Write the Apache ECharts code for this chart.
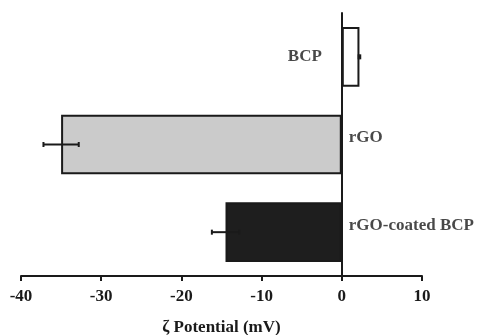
<!DOCTYPE html>
<html>
<head>
<meta charset="utf-8">
<script src="https://cdn.jsdelivr.net/npm/echarts@6/dist/echarts.min.js"></script>
<style>
  html, body { margin: 0; padding: 0; background: #fff; }
  #chart { width: 478px; height: 335px; }
</style>
</head>
<body>
<div id="chart"></div>
<script>
// data
var categories = ['BCP', 'rGO', 'rGO-coated BCP'];
var values = [2.2, -35.0, -14.5];
var errors = [0.1, 2.2, 1.7];
var fills = ['#ffffff', '#cbcbcb', '#1e1e1e'];
var xTicks = [-40, -30, -20, -10, 0, 10];

var ink = '#1a1a1a';
var font = '"Liberation Serif", "Times New Roman", serif';

var chart = echarts.init(document.getElementById('chart'));

var barData = values.map(function (v, i) {
  return {
    value: v,
    itemStyle: { color: fills[i], borderColor: ink, borderWidth: 2 }
  };
});

// labels sit at x = 0, BCP on the left, the others on the right
var labelData = categories.map(function (c, i) {
  var left = values[i] > 0;
  return {
    value: [0, c],
    label: {
      position: left ? 'left' : 'right',
      distance: left ? 20 : 7,
      offset: left ? [0, 0] : [0, -7]
    }
  };
});

var errData = values.map(function (v, i) {
  return [v - errors[i], v + errors[i], i];
});

var option = {
  animation: false,
  backgroundColor: '#fff',
  grid: { left: 21, right: 56, top: 13, bottom: 59, outerBoundsMode: 'none', containLabel: false },
  xAxis: {
    type: 'value',
    min: -40,
    max: 10,
    interval: 10,
    name: 'ζ Potential (mV)',
    nameLocation: 'middle',
    nameGap: 43,
    nameTextStyle: { fontFamily: font, fontWeight: 'bold', fontSize: 17, color: ink },
    axisLine: { show: true, onZero: false, lineStyle: { color: ink, width: 2 } },
    axisTick: { show: true, length: 5, lineStyle: { color: ink, width: 2 } },
    axisLabel: {
      margin: 12,
      fontFamily: font,
      fontWeight: 'bold',
      fontSize: 17,
      color: ink,
      formatter: function (v) { return xTicks.indexOf(v) >= 0 ? String(v) : ''; }
    },
    splitLine: { show: false }
  },
  yAxis: {
    type: 'category',
    data: categories,
    inverse: true,
    axisLine: { show: true, onZero: true, lineStyle: { color: ink, width: 2 } },
    axisTick: { show: false },
    axisLabel: { show: false }
  },
  series: [
    {
      type: 'bar',
      data: barData,
      barCategoryGap: '32%',
      z: 1
    },
    {
      type: 'custom',
      z: 3,
      data: errData,
      renderItem: function (params, api) {
        var p1 = api.coord([api.value(0), api.value(2)]);
        var p2 = api.coord([api.value(1), api.value(2)]);
        var cap = 2.5;
        var st = { stroke: ink, lineWidth: 2 };
        return {
          type: 'group',
          children: [
            { type: 'line', shape: { x1: p1[0], y1: p1[1], x2: p2[0], y2: p2[1] }, style: st },
            { type: 'line', shape: { x1: p1[0], y1: p1[1] - cap, x2: p1[0], y2: p1[1] + cap }, style: st },
            { type: 'line', shape: { x1: p2[0], y1: p2[1] - cap, x2: p2[0], y2: p2[1] + cap }, style: st }
          ]
        };
      }
    },
    {
      type: 'scatter',
      symbolSize: 0,
      z: 4,
      silent: true,
      data: labelData,
      label: {
        show: true,
        formatter: function (p) { return p.value[1]; },
        fontFamily: font,
        fontWeight: 'bold',
        fontSize: 17,
        color: ink
      }
    }
  ]
};

chart.setOption(option);
</script>
</body>
</html>
